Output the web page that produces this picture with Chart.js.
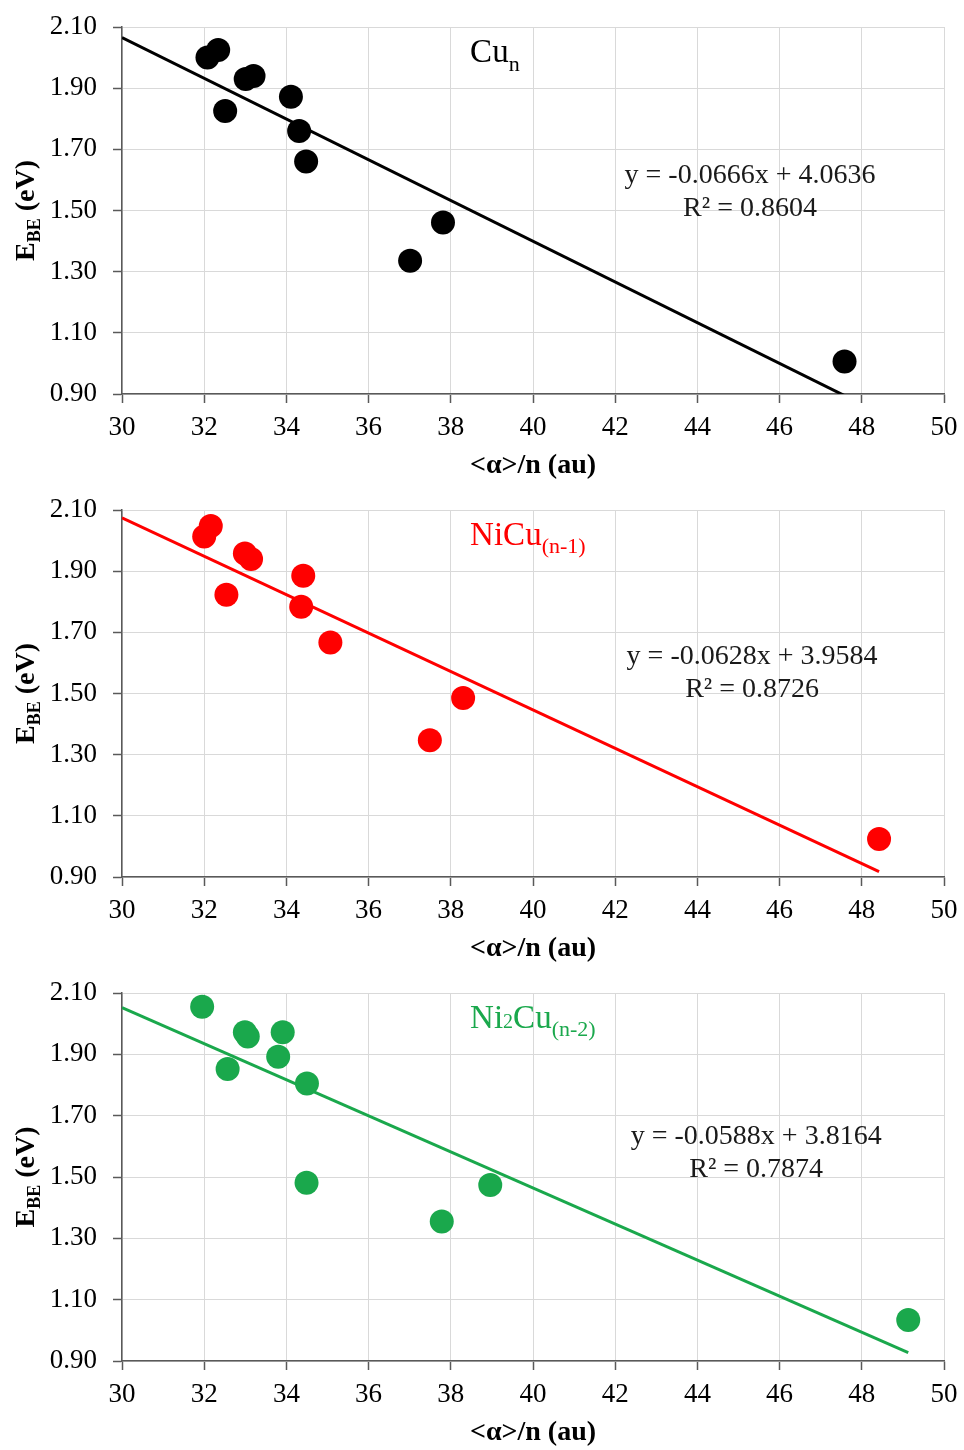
<!DOCTYPE html>
<html><head><meta charset="utf-8">
<script src="https://cdn.jsdelivr.net/npm/chart.js@4.4.1/dist/chart.umd.min.js"></script>
<style>body{margin:0;background:#fff;} canvas{display:block;}</style>
</head><body>
<canvas id="c1" width="964" height="483"></canvas>
<canvas id="c2" width="964" height="483"></canvas>
<canvas id="c3" width="964" height="484"></canvas>
<script>
// ---- data ----
const xTickValues = [30, 32, 34, 36, 38, 40, 42, 44, 46, 48, 50];
const xTickLabels = ['30','32','34','36','38','40','42','44','46','48','50'];
const yTickValues = [0.90, 1.10, 1.30, 1.50, 1.70, 1.90, 2.10];
const yTickLabels = ['0.90','1.10','1.30','1.50','1.70','1.90','2.10'];

const cuX = [32.08, 32.34, 32.51, 33.01, 33.20, 34.11, 34.31, 34.48, 37.01, 37.81, 47.58];
const cuY = [2.000, 2.025, 1.825, 1.930, 1.940, 1.872, 1.760, 1.660, 1.336, 1.461, 1.006];

const niCuX = [32.00, 32.16, 32.54, 32.99, 33.14, 34.41, 34.36, 35.07, 37.49, 38.30, 48.42];
const niCuY = [2.013, 2.048, 1.823, 1.958, 1.940, 1.885, 1.784, 1.667, 1.347, 1.485, 1.024];

const ni2CuX = [31.95, 32.99, 33.06, 33.91, 33.80, 32.57, 34.50, 34.49, 37.78, 38.96, 49.13];
const ni2CuY = [2.055, 1.972, 1.958, 1.972, 1.892, 1.852, 1.805, 1.481, 1.355, 1.474, 1.034];

const slopes = [-0.0666, -0.0628, -0.0588];
const intercepts = [4.0636, 3.9584, 3.8164];
const rSquared = ['0.8604', '0.8726', '0.7874'];
const seriesColors = ['#000000', '#ff0000', '#1aa84c'];

// ---- drawing helpers ----
const SERIF = '"Liberation Serif", "Times New Roman", serif';

function drawRich(ctx, parts, x, y, align) {
  let total = 0;
  parts.forEach(p => { ctx.font = (p.bold ? 'bold ' : '') + p.size + 'px ' + SERIF; p.w = ctx.measureText(p.t).width; total += p.w; });
  let cx = align === 'center' ? x - total / 2 : x;
  ctx.textBaseline = 'alphabetic';
  ctx.textAlign = 'left';
  parts.forEach(p => {
    ctx.font = (p.bold ? 'bold ' : '') + p.size + 'px ' + SERIF;
    ctx.fillText(p.t, cx, y + (p.dy || 0));
    cx += p.w;
  });
}

function makeChart(id, xs, ys, idx, titleParts, eqPos) {
  const pts = xs.map((x, i) => ({ x: x, y: ys[i] }));
  const xMax = Math.max.apply(null, xs);
  const trend = [30, xMax].map(x => ({ x: x, y: slopes[idx] * x + intercepts[idx] }));
  const color = seriesColors[idx];
  const sign = intercepts[idx] >= 0 ? ' + ' : ' - ';
  const eq = 'y = ' + slopes[idx].toFixed(4) + 'x' + sign + Math.abs(intercepts[idx]).toFixed(4);

  const textPlugin = {
    id: 'texts' + idx,
    afterDraw(chart) {
      const ctx = chart.ctx;
      const ca = chart.chartArea;
      ctx.save();
      // panel title
      ctx.fillStyle = color;
      drawRich(ctx, titleParts, chart.scales.x.getPixelForValue(38.47), ca.top + 35, 'left');
      // equation and R²
      ctx.fillStyle = '#1a1a1a';
      const ex = chart.scales.x.getPixelForValue(eqPos.x);
      drawRich(ctx, [{ t: eq, size: 28 }], ex, ca.top + eqPos.dy, 'center');
      drawRich(ctx, [{ t: 'R² = ' + rSquared[idx], size: 28 }], ex, ca.top + eqPos.dy + 33, 'center');
      // y-axis title with subscript
      ctx.fillStyle = '#000';
      ctx.translate(34, (ca.top + ca.bottom) / 2);
      ctx.rotate(-Math.PI / 2);
      drawRich(ctx, [
        { t: 'E', size: 28, bold: true },
        { t: 'BE', size: 18, bold: true, dy: 6 },
        { t: ' (eV)', size: 28, bold: true }
      ], 0, 0, 'center');
      ctx.restore();
    }
  };

  return new Chart(document.getElementById(id), {
    type: 'scatter',
    data: {
      datasets: [
        { data: pts, backgroundColor: color, borderColor: color, pointRadius: 12, pointHoverRadius: 12, borderWidth: 0, clip: false },
        { type: 'line', data: trend, borderColor: color, borderWidth: 3, pointRadius: 0, fill: false, showLine: true, clip: 0 }
      ]
    },
    options: {
      responsive: false,
      animation: false,
      devicePixelRatio: 1,
      layout: { padding: { left: 0, top: 27, right: 20, bottom: 0 } },
      plugins: { legend: { display: false }, tooltip: { enabled: false } },
      scales: {
        x: {
          type: 'linear', min: 30, max: 50,
          afterBuildTicks: s => { s.ticks = xTickValues.map(v => ({ value: v })); },
          afterFit: s => { s.height = 89; s.paddingLeft = 0; s.paddingRight = 10; },
          ticks: { color: '#000', font: { family: SERIF, size: 27 }, padding: 9, maxRotation: 0,
                   callback: (v, i) => xTickLabels[i] },
          grid: { color: '#d9d9d9', lineWidth: 1, tickLength: 9, tickColor: '#595959', tickWidth: 1.5 },
          border: { color: '#595959', width: 1.5 },
          title: { display: true, text: '<α>/n (au)', color: '#000', font: { family: SERIF, size: 28, weight: 'bold' }, padding: { top: 0, bottom: 0 } }
        },
        y: {
          type: 'linear', min: 0.9, max: 2.1,
          afterBuildTicks: s => { s.ticks = yTickValues.map(v => ({ value: v })); },
          afterFit: s => { s.width = 122; s.paddingTop = 10; s.paddingBottom = 10; },
          ticks: { color: '#000', font: { family: SERIF, size: 27 }, padding: 16,
                   callback: (v, i) => yTickLabels[i] },
          grid: { color: '#d9d9d9', lineWidth: 1, tickLength: 9, tickColor: '#595959', tickWidth: 1.5 },
          border: { color: '#595959', width: 1.5 }
        }
      }
    },
    plugins: [textPlugin]
  });
}

makeChart('c1', cuX, cuY, 0, [{ t: 'Cu', size: 33 }, { t: 'n', size: 22, dy: 9 }], { x: 45.28, dy: 156 });
makeChart('c2', niCuX, niCuY, 1, [{ t: 'NiCu', size: 33 }, { t: '(n-1)', size: 22, dy: 8 }], { x: 45.33, dy: 154 });
makeChart('c3', ni2CuX, ni2CuY, 2, [{ t: 'Ni', size: 33 }, { t: '2', size: 20 }, { t: 'Cu', size: 33 }, { t: '(n-2)', size: 22, dy: 8 }], { x: 45.43, dy: 151 });
</script>
</body></html>
